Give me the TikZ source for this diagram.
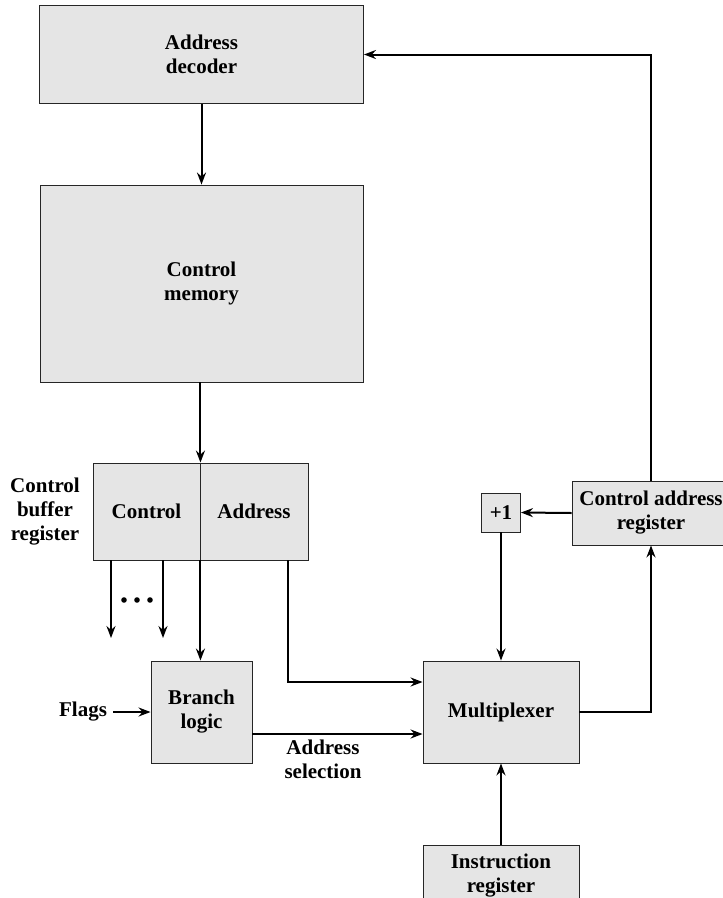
\documentclass[tikz,border=0pt]{standalone}
\usepackage{fontspec}
\setmainfont{Liberation Serif}
\usetikzlibrary{arrows.meta,calc}
\definecolor{boxfill}{RGB}{229,229,229}
\begin{document}
\begin{tikzpicture}[x=1pt,y=-1pt,
  blk/.style={draw=black!85, fill=boxfill, line width=0.9pt, inner sep=0pt, align=center, font=\bfseries\fontsize{21}{24}\selectfont},
  lbl/.style={inner sep=0pt, align=center, font=\bfseries\fontsize{21}{24}\selectfont},
  arr/.style={line width=2pt, -{Stealth[length=12pt,width=9pt,inset=4pt]}}]
\clip (0,0) rectangle (723,898);
% blocks
\node[blk, minimum width=324pt, minimum height=98pt] (dec) at (201.5,54.5) {Address\\decoder};
\node[blk, minimum width=323pt, minimum height=197pt] (mem) at (201.5,283.5) {Control\\memory};
\node[blk, minimum width=107pt, minimum height=97pt] (cbrc) at (146.5,511.5) {Control};
\node[blk, minimum width=108pt, minimum height=97pt] (cbra) at (254,511.5) {Address};
\node[blk, minimum width=101pt, minimum height=102pt] (bl) at (201.5,712) {Branch\\logic};
\node[blk, minimum width=156pt, minimum height=102pt] (mux) at (501,712) {Multiplexer};
\node[blk, minimum width=39pt, minimum height=39pt] (inc) at (501,512.5) {+1};
\node[blk, minimum width=158pt, minimum height=64pt] (car) at (651,513) {Control address\\register};
\node[blk, minimum width=156pt, minimum height=60pt, anchor=north] (ir) at (501,845) {Instruction\\register};
% labels
\node[lbl] (cbrlbl) at (45,512) {Control\\buffer\\register};
\node[lbl, anchor=east, outer xsep=6pt] (flags) at (113,712) {Flags};
\node[lbl] (asel) at (323,759) {Address\\selection};
% dots
\fill (124,600) circle (2.8);
\fill (137,600) circle (2.8);
\fill (150,600) circle (2.8);
% connectors
\draw[arr] (dec.south) -- (mem.north);
\draw[arr] (mem.south -| cbrc.north east) -- (cbrc.north east);
\draw[arr] (cbrc.south east) -- (cbrc.south east |- bl.north);
\coordinate (o1) at (111,638);
\coordinate (o2) at (163,638);
\draw[arr] (o1 |- cbrc.south) -- (o1);
\draw[arr] (o2 |- cbrc.south) -- (o2);
\coordinate (ax) at (288,682);
\draw[arr] (ax |- cbra.south) |- ($(mux.west)+(0,-30)$);
\draw[arr] ($(bl.east)+(0,22)$) -- ($(mux.west)+(0,22)$);
\draw[arr] (flags.east) -- (bl.west);
\draw[arr] (inc.south) -- (mux.north);
\draw[arr] (ir.north) -- (mux.south);
\draw[arr] (mux.east) -| (car.south);
\draw[arr] (car.west) -- (inc.east);
\draw[arr] (car.north) |- (dec.east);
\end{tikzpicture}
\end{document}
